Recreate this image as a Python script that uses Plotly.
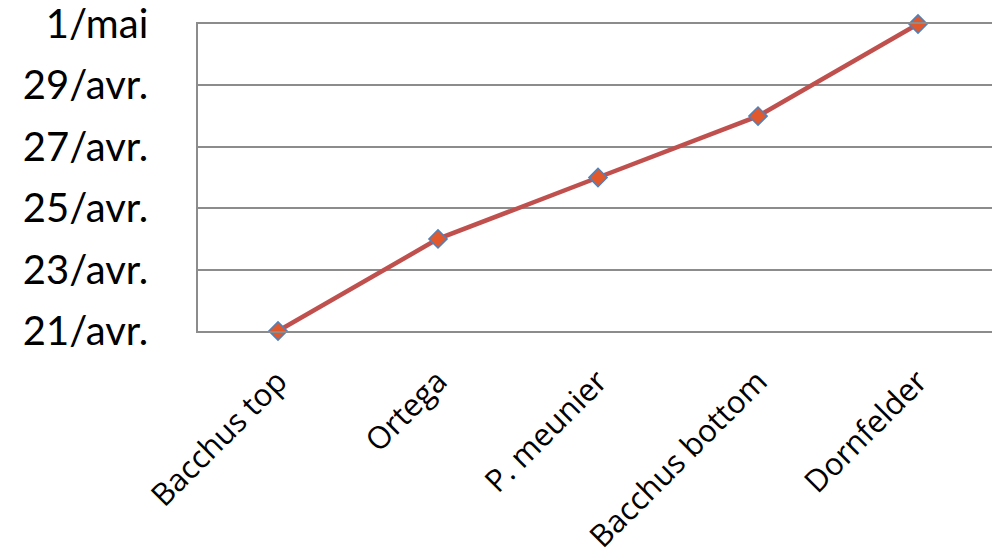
import plotly.graph_objects as go

# Débourrement dates per variety
varieties = ["Bacchus top", "Ortega", "P. meunier", "Bacchus bottom", "Dornfelder"]
dates = ["2013-04-21", "2013-04-24", "2013-04-26", "2013-04-28", "2013-05-01"]

tick_dates = ["2013-04-21", "2013-04-23", "2013-04-25", "2013-04-27", "2013-04-29", "2013-05-01"]
tick_labels = ["21/avr.", "23/avr.", "25/avr.", "27/avr.", "29/avr.", "1/mai"]

GRID = "#8C8C8C"

fig = go.Figure()
fig.add_trace(go.Scatter(
    x=varieties,
    y=dates,
    mode="lines+markers",
    line=dict(color="#C0504D", width=4.5),
    marker=dict(symbol="diamond", size=14, color="#E0582B",
                line=dict(color="#4F81BD", width=1.5)),
    cliponaxis=False,
    showlegend=False,
))

fig.update_layout(
    width=992,
    height=558,
    margin=dict(l=198, r=0, t=24, b=227, autoexpand=False),
    paper_bgcolor="white",
    plot_bgcolor="white",
)

# bottom and top frame lines come from the x axis line (mirrored)
fig.update_xaxes(
    type="category",
    range=[-0.5, 4.4625],
    tickangle=-45,
    tickfont=dict(family="Open Sans", size=31, color="black"),
    showgrid=False,
    showline=True,
    mirror=True,
    linecolor=GRID,
    linewidth=1.5,
    zeroline=False,
    ticks="",
    ticklabelstandoff=18,
    automargin=False,
)

fig.update_yaxes(
    type="date",
    range=["2013-04-21", "2013-05-01"],
    tickvals=tick_dates,
    ticktext=tick_labels,
    tickfont=dict(family="Lato", size=40, color="black"),
    ticklabeloverflow="allow",
    showgrid=True,
    gridcolor=GRID,
    gridwidth=1.5,
    showline=True,
    linecolor=GRID,
    linewidth=1.5,
    zeroline=False,
    ticks="",
    ticklabelstandoff=40,
    automargin=False,
)

fig.write_html("out.html")
